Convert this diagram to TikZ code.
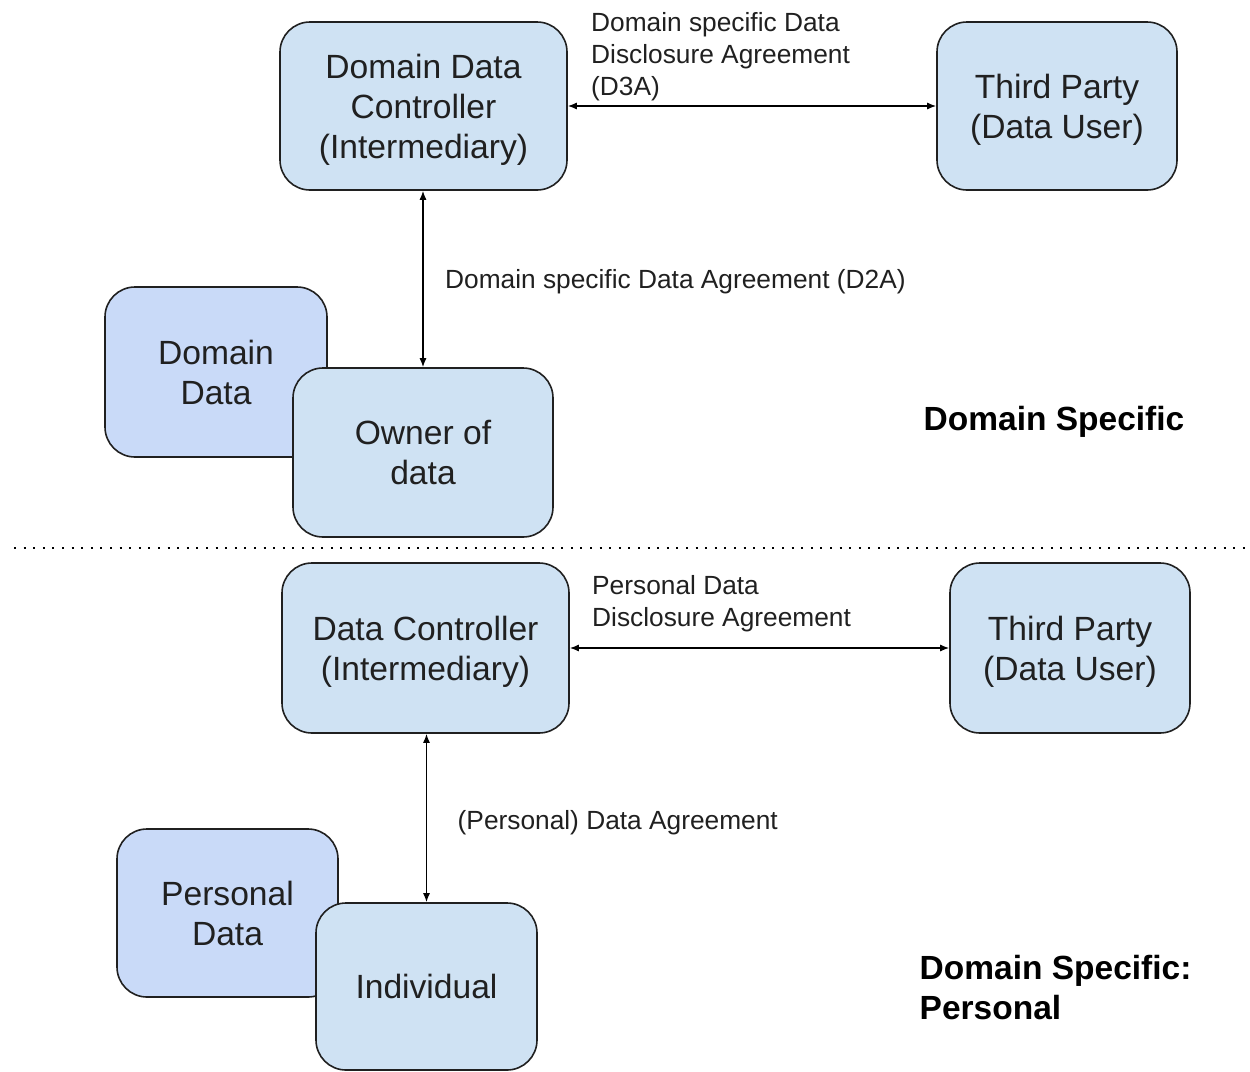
\documentclass[tikz,border=0pt]{standalone}
\usepackage{fontspec}
\setmainfont{Liberation Sans}
\usetikzlibrary{arrows.meta}
\definecolor{boxfill}{HTML}{CFE2F3}
\definecolor{datafill}{HTML}{C9DAF8}
\definecolor{ink}{HTML}{202020}
\newcommand\tstr{\rule{0pt}{32pt}}
\newcommand\bstr{\rule[-7.5pt]{0pt}{7.5pt}}
\begin{document}
\begin{tikzpicture}[x=1pt,y=-1pt,
  box/.style={draw=ink, line width=1.6pt, rounded corners=30pt, fill=boxfill,
    align=center, inner sep=0pt, text=ink, font=\fontsize{33.6}{40}\selectfont},
  databox/.style={box, fill=datafill},
  lbl/.style={anchor=north west, inner sep=0pt, align=left, text=ink,
    font=\fontsize{26.3}{32}\selectfont},
  heading/.style={anchor=north west, inner sep=0pt, align=left, text=black,
    font=\fontsize{33.5}{40}\selectfont\bfseries},
  link/.style={line width=1.3pt, draw=black, {Latex[length=9pt,width=7pt]}-{Latex[length=9pt,width=7pt]}}]
\useasboundingbox (0,0) rectangle (1250,1071);

% upper section
\node[box, minimum width=287pt, minimum height=168pt] (ddc) at (423.5,106) {\tstr Domain Data\\Controller\\(Intermediary)\bstr};
\node[box, minimum width=240pt, minimum height=168pt] (tp1) at (1057,106) {\tstr Third Party\\(Data User)\bstr};
\node[databox, minimum width=222pt, minimum height=170pt] (dd) at (216,372) {\tstr Domain\\Data\bstr};
\node[box, minimum width=260pt, minimum height=169pt] (own) at (423,452.5) {\tstr Owner of\\data\bstr};

\draw[link] (ddc.east) -- (tp1.west);
\draw[link] (own.north |- ddc.south) -- (own.north);

\node[lbl] (l1) at (591,12.5) {Domain specific Data\\Disclosure Agreement\\(D3A)};
\node[lbl] (l2) at (445,269.5) {Domain specific Data Agreement (D2A)};
\node[heading] (h1) at (923.5,406) {Domain Specific};

% separator
\coordinate (s1) at (14,548);
\coordinate (s2) at (1250,548);
\draw[line width=2.6pt, dash pattern=on 2pt off 7.6pt] (s1) -- (s2);

% lower section
\node[box, minimum width=287pt, minimum height=170pt] (dc) at (425.5,648) {\tstr Data Controller\\(Intermediary)\bstr};
\node[box, minimum width=240pt, minimum height=170pt] (tp2) at (1070,648) {\tstr Third Party\\(Data User)\bstr};
\node[databox, minimum width=221pt, minimum height=168pt] (pd) at (227.5,913) {\tstr Personal\\Data\bstr};
\node[box, minimum width=221pt, minimum height=167pt] (ind) at (426.5,986.5) {\tstr Individual\bstr};

\draw[link] (dc.east) -- (tp2.west);
\draw[link] (ind.north |- dc.south) -- (ind.north);

\node[lbl] (l3) at (592,575.5) {Personal Data\\Disclosure Agreement};
\node[lbl] (l4) at (457.5,810.5) {(Personal) Data Agreement};
\node[heading] (h2) at (919.5,955) {Domain Specific:\\Personal};
\end{tikzpicture}
\end{document}
